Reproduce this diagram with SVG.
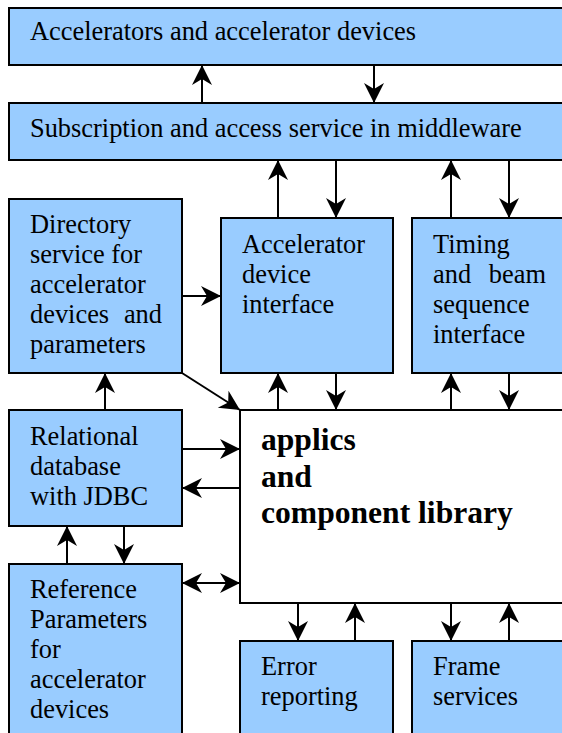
<svg xmlns="http://www.w3.org/2000/svg" width="562" height="733" viewBox="0 0 562 733">
<style>
.box{fill:#99ccff;stroke:#000;stroke-width:2}
.wbox{fill:#fff;stroke:#000;stroke-width:2}
.t{font-family:'Liberation Serif','Times New Roman',serif;font-size:26.4px;fill:#000}
.b{font-family:'Liberation Serif','Times New Roman',serif;font-size:31.6px;font-weight:bold;fill:#000}
.c line{stroke:#000;stroke-width:2;fill:none}
</style>
<defs>
<marker id="ah" markerUnits="userSpaceOnUse" markerWidth="24" markerHeight="24" viewBox="-21 -12 24 24" refX="0" refY="0" orient="auto-start-reverse">
<path d="M0,0 L-20,-10 L-14,0 L-20,10 Z" fill="#000"/>
</marker>
</defs>
<rect x="0" y="0" width="562" height="733" fill="#fff"/>
<g id="accelerators">
<rect class="box" x="9" y="8" width="570" height="57"/>
<text class="t" x="30" y="40">Accelerators and accelerator devices</text>
</g>
<g id="subscription">
<rect class="box" x="9" y="103" width="570" height="57"/>
<text class="t" x="30" y="137">Subscription and access service in middleware</text>
</g>
<g id="directory">
<rect class="box" x="9" y="199" width="173" height="174"/>
<text class="t" x="30" y="233">Directory</text>
<text class="t" x="30" y="263">service for</text>
<text class="t" x="30" y="293">accelerator</text>
<text class="t" x="30" y="323">devices</text>
<text class="t" x="162" y="323" text-anchor="end">and</text>
<text class="t" x="30" y="353">parameters</text>
</g>
<g id="device-interface">
<rect class="box" x="221" y="218" width="172" height="155"/>
<text class="t" x="242" y="253">Accelerator</text>
<text class="t" x="242" y="283">device</text>
<text class="t" x="242" y="313">interface</text>
</g>
<g id="timing">
<rect class="box" x="412" y="218" width="170" height="155"/>
<text class="t" x="433" y="253">Timing</text>
<text class="t" x="433" y="283">and</text>
<text class="t" x="546" y="283" text-anchor="end">beam</text>
<text class="t" x="433" y="313">sequence</text>
<text class="t" x="433" y="343">interface</text>
</g>
<g id="applics">
<rect class="wbox" x="240" y="410" width="340" height="193"/>
<text class="b" x="261" y="450">applics</text>
<text class="b" x="261" y="487">and</text>
<text class="b" x="261" y="523">component library</text>
</g>
<g id="relational">
<rect class="box" x="9" y="410" width="173" height="116"/>
<text class="t" x="30" y="445">Relational</text>
<text class="t" x="30" y="475">database</text>
<text class="t" x="30" y="505">with JDBC</text>
</g>
<g id="reference">
<rect class="box" x="9" y="564" width="173" height="180"/>
<text class="t" x="30" y="598">Reference</text>
<text class="t" x="30" y="628">Parameters</text>
<text class="t" x="30" y="658">for</text>
<text class="t" x="30" y="688">accelerator</text>
<text class="t" x="30" y="718">devices</text>
</g>
<g id="error">
<rect class="box" x="240" y="641" width="153" height="100"/>
<text class="t" x="261" y="675">Error</text>
<text class="t" x="261" y="705">reporting</text>
</g>
<g id="frame">
<rect class="box" x="412" y="641" width="170" height="100"/>
<text class="t" x="433" y="675">Frame</text>
<text class="t" x="433" y="705">services</text>
</g>
<g id="connectors" class="c">
<line x1="202" y1="103" x2="202" y2="65" marker-end="url(#ah)"/>
<line x1="374" y1="65" x2="374" y2="103" marker-end="url(#ah)"/>
<line x1="278" y1="218" x2="278" y2="160" marker-end="url(#ah)"/>
<line x1="336" y1="160" x2="336" y2="218" marker-end="url(#ah)"/>
<line x1="451" y1="218" x2="451" y2="160" marker-end="url(#ah)"/>
<line x1="509" y1="160" x2="509" y2="218" marker-end="url(#ah)"/>
<line x1="182" y1="296" x2="221" y2="296" marker-end="url(#ah)"/>
<line x1="182" y1="373" x2="240" y2="410" marker-end="url(#ah)"/>
<line x1="105" y1="410" x2="105" y2="373" marker-end="url(#ah)"/>
<line x1="278" y1="410" x2="278" y2="373" marker-end="url(#ah)"/>
<line x1="336" y1="373" x2="336" y2="410" marker-end="url(#ah)"/>
<line x1="451" y1="410" x2="451" y2="373" marker-end="url(#ah)"/>
<line x1="509" y1="373" x2="509" y2="410" marker-end="url(#ah)"/>
<line x1="182" y1="449" x2="240" y2="449" marker-end="url(#ah)"/>
<line x1="240" y1="488" x2="182" y2="488" marker-end="url(#ah)"/>
<line x1="67" y1="564" x2="67" y2="526" marker-end="url(#ah)"/>
<line x1="124" y1="526" x2="124" y2="564" marker-end="url(#ah)"/>
<line x1="182" y1="583" x2="240" y2="583" marker-start="url(#ah)" marker-end="url(#ah)"/>
<line x1="298" y1="603" x2="298" y2="641" marker-end="url(#ah)"/>
<line x1="355" y1="641" x2="355" y2="603" marker-end="url(#ah)"/>
<line x1="451" y1="603" x2="451" y2="641" marker-end="url(#ah)"/>
<line x1="509" y1="641" x2="509" y2="603" marker-end="url(#ah)"/>
</g>
</svg>
